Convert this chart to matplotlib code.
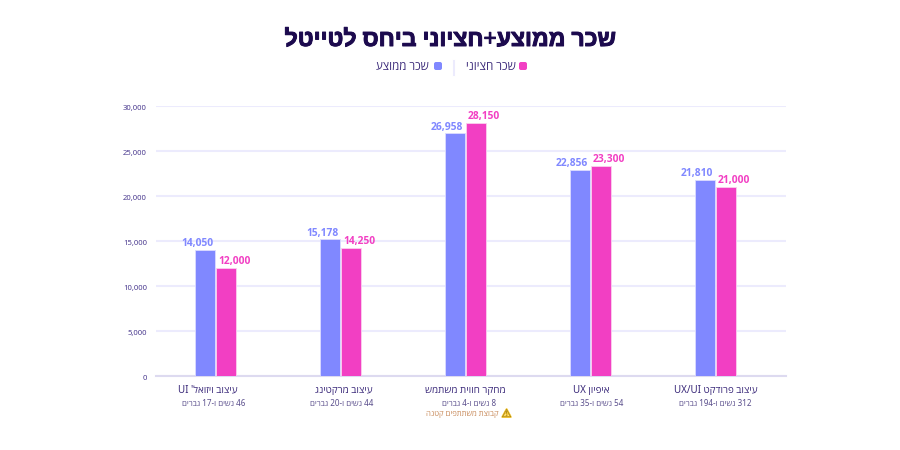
#!/usr/bin/env python3

import re
import matplotlib
matplotlib.use('Agg')
import matplotlib.pyplot as plt
import matplotlib.patheffects as pe
from matplotlib.patches import FancyBboxPatch
from matplotlib.ticker import FuncFormatter
from matplotlib.transforms import ScaledTranslation

categories = ["עיצוב ויזואל' UI", 'עיצוב מרקטינג', 'מחקר חווית משתמש', 'איפיון UX', 'עיצוב פרודקט UX/UI']
sublabels = ['46 נשים ו-17 גברים', '44 נשים ו-20 גברים', '8 נשים ו-4 גברים', '54 נשים ו-35 גברים', '312 נשים ו-194 גברים']
mean_values = [14050, 15178, 26958, 22856, 21810]
median_values = [12000, 14250, 28150, 23300, 21000]
y_ticks = [0, 5000, 10000, 15000, 20000, 25000, 30000]
title = 'שכר ממוצע+חציוני ביחס לטייטל'
mean_label = 'שכר ממוצע'
median_label = 'שכר חציוני'
warning_label = 'קבוצת משתתפים קטנה'

BLUE = '#8088ff'
PINK = '#f23fc3'
NAVY = '#1c0a4e'
INDIGO = '#3b2a7a'
GRID = '#ecebfd'

# small horizontal nudges of the axis labels, in points
label_dx = [-5.8, 2.2, 0, 0.7, 0.3]
sub_dx = [-1.4, 0.7, 2.5, 0.7, 0]


def visual(text):
    # matplotlib has no bidi support, so flip to visual order and keep latin/number runs readable
    flipped = text[::-1]
    return re.sub(r"[A-Za-z0-9/,]+", lambda m: m.group(0)[::-1], flipped)


plt.rcParams['font.family'] = ['Noto Sans', 'Open Sans', 'Liberation Sans', 'DejaVu Sans']

fig = plt.figure(figsize=(9, 4.5), dpi=100)
# axes placed by pixels: gridlines run 156-786, zero at y=376, 30,000 at y=106
ax = fig.add_axes([156 / 900, (450 - 376) / 450, (786 - 156) / 900, 270 / 450])

bar_w = 19.5 / 125
gap = 0.75 / 125
x = list(range(len(categories)))
ax.bar([i - bar_w / 2 - gap for i in x], mean_values, bar_w, color=BLUE, edgecolor='#dcdcff', linewidth=0.6, zorder=3)
ax.bar([i + bar_w / 2 + gap for i in x], median_values, bar_w, color=PINK, edgecolor='#fbd0ee', linewidth=0.6, zorder=3)

for i in x:
    ax.annotate(f'{mean_values[i]:,}', (i - bar_w / 2 - gap, mean_values[i]), xytext=(-5.8, 0.6),
                textcoords='offset points', ha='center', va='bottom', fontsize=7.4,
                fontweight='bold', family='Open Sans', color=BLUE, zorder=4)
    ax.annotate(f'{median_values[i]:,}', (i + bar_w / 2 + gap, median_values[i]), xytext=(5.8, 0.6),
                textcoords='offset points', ha='center', va='bottom', fontsize=7.4,
                fontweight='bold', family='Open Sans', color=PINK, zorder=4)
    ax.annotate(visual(categories[i]), (i, 0), xytext=(label_dx[i], -6.2), textcoords='offset points',
                ha='center', va='top', fontsize=7.1, color=INDIGO)
    ax.annotate(visual(sublabels[i]), (i, 0), xytext=(sub_dx[i], -16.6), textcoords='offset points',
                ha='center', va='top', fontsize=5.8, color='#5a4e8c')

ax.annotate(visual(warning_label), (2, 0), xytext=(-2.5, -25.5), textcoords='offset points',
            ha='center', va='top', fontsize=5.6, color='#c88a5a')
warn = ax.annotate('\u26a0', (2, 0), xytext=(29.5, -23.8), textcoords='offset points', ha='center', va='top',
                   fontsize=8, color='#8a6a10', family='DejaVu Sans')
warn.set_path_effects([pe.withStroke(linewidth=1.2, foreground='#f5c93a')])

ax.set_xlim((156 - 215.6) / 125, (786 - 215.6) / 125)
ax.set_ylim(0, 30000)
ax.set_yticks(y_ticks)
ax.yaxis.set_major_formatter(FuncFormatter(lambda v, _: f'{int(v):,}'))
ax.set_xticks([])
ax.tick_params(axis='y', length=0, pad=6.5, labelsize=5.5, labelcolor='#4c3c90')
# tick labels sit a touch under their gridlines
for lab in ax.get_yticklabels():
    lab.set_transform(lab.get_transform() + ScaledTranslation(0, -1.5 / 100, fig.dpi_scale_trans))
ax.grid(axis='y', color=GRID, linewidth=1.5, zorder=0)
ax.set_axisbelow(True)
for name in ['top', 'left', 'right']:
    ax.spines[name].set_visible(False)
ax.spines['bottom'].set_color('#dddaf0')
ax.spines['bottom'].set_linewidth(1.5)

title_text = fig.text(450 / 900, 1 - 40 / 450, visual(title), ha='center', va='center', fontsize=16.6,
                      fontweight='bold', color=NAVY)
title_text.set_path_effects([pe.withStroke(linewidth=0.7, foreground=NAVY)])

# legend row, median on the right as in the rtl original
fig.text(516 / 900, 1 - 68 / 450, visual(median_label), ha='right', va='center', fontsize=8.4, color=INDIGO)
fig.text(429 / 900, 1 - 68 / 450, visual(mean_label), ha='right', va='center', fontsize=8.3, color=INDIGO)
legend_ax = fig.add_axes([0, 0, 1, 1], facecolor='none')
legend_ax.set_xlim(0, 900)
legend_ax.set_ylim(450, 0)
legend_ax.axis('off')
legend_ax.add_patch(FancyBboxPatch((520, 63), 6, 6, boxstyle='round,pad=1,rounding_size=2', fc=PINK, ec='none'))
legend_ax.add_patch(FancyBboxPatch((435, 63), 6, 6, boxstyle='round,pad=1,rounding_size=2', fc=BLUE, ec='none'))
legend_ax.plot([454, 454], [61, 75], color=GRID, linewidth=1.5)

fig.savefig('out.png', dpi=100)
